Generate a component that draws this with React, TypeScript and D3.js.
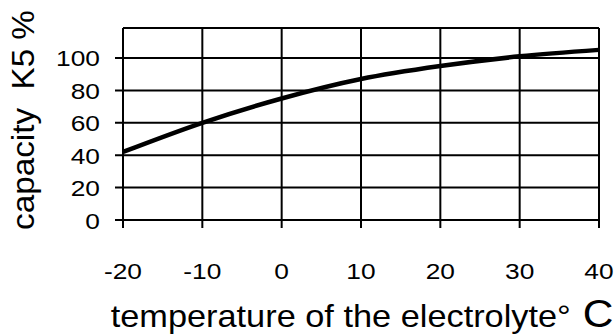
import React from "react";
import * as d3 from "d3";

const temperatures = [-20, -10, 0, 10, 20, 30, 40];
const capacity = [42, 60, 75, 87, 95, 101, 105];
const yTicks = [0, 20, 40, 60, 80, 100];
const xTicks = [-20, -10, 0, 10, 20, 30, 40];

const W = 616;
const H = 335;
const FONT = "'Liberation Sans', Arial, Helvetica, sans-serif";

export default function App() {
  const x = d3.scaleLinear().domain([-20, 40]).range([123, 599]);
  const y = d3.scaleLinear().domain([0, 118.5]).range([220, 28]);
  const line = d3
    .line<number>()
    .x((_, i) => x(temperatures[i]))
    .y((d) => y(d))
    .curve(d3.curveMonotoneX);
  const [x0, x1] = x.range();
  const [, yt] = y.range();
  const sx = 1.17;
  return (
    <svg
      width={W}
      height={H}
      style={{ position: "absolute", left: 0, top: 0, background: "#fff" }}
      fontFamily={FONT}
    >
      <rect x={0} y={0} width={W} height={H} fill="#fff" />
      {yTicks.map((t) => (
        <line key={"h" + t} x1={115} x2={x1} y1={y(t)} y2={y(t)} stroke="#000" strokeWidth={2} />
      ))}
      <line x1={x0} x2={x1} y1={yt} y2={yt} stroke="#000" strokeWidth={2} />
      {xTicks.map((t) => (
        <line key={"v" + t} x1={x(t)} x2={x(t)} y1={yt} y2={228} stroke="#000" strokeWidth={2} />
      ))}
      <path d={line(capacity) || ""} fill="none" stroke="#000" strokeWidth={4.5} strokeLinejoin="round" />
      {yTicks.map((t) => (
        <text
          key={"yl" + t}
          transform={`translate(100,${y(t) + 8.5}) scale(${sx},1)`}
          textAnchor="end"
          fontSize={22.5}
          fill="#000"
        >
          {t}
        </text>
      ))}
      {xTicks.map((t) => (
        <text
          key={"xl" + t}
          transform={`translate(${x(t)},278.5) scale(${sx},1)`}
          textAnchor="middle"
          fontSize={22.5}
          fill="#000"
        >
          {t}
        </text>
      ))}
      <text
        transform={`translate(${(x0 + x1) / 2 + 1},327) scale(1.09,1)`}
        textAnchor="middle"
        fontSize={31.5}
        fill="#000"
      >
        temperature of the electrolyte
        <tspan>°</tspan>
        <tspan fontSize={39}> C</tspan>
      </text>
      <text
        transform={`translate(34,120) rotate(-90) scale(1.09,1)`}
        textAnchor="middle"
        fontSize={30.5}
        fill="#000"
        style={{ whiteSpace: "pre" }}
      >
        {"capacity  K5 %"}
      </text>
    </svg>
  );
}
